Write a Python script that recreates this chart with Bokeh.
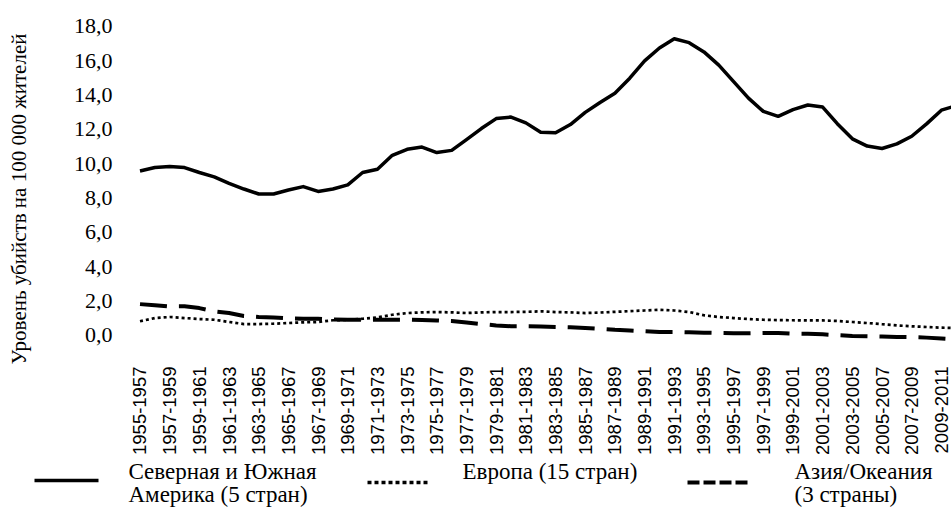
import math
from bokeh.plotting import figure
from bokeh.models import Range1d, FixedTicker
from bokeh.embed import file_html
from bokeh.resources import INLINE
from bokeh.core.properties import value

categories = [
    "1955-1957", "1956-1958", "1957-1959", "1958-1960", "1959-1961", "1960-1962",
    "1961-1963", "1962-1964", "1963-1965", "1964-1966", "1965-1967", "1966-1968",
    "1967-1969", "1968-1970", "1969-1971", "1970-1972", "1971-1973", "1972-1974",
    "1973-1975", "1974-1976", "1975-1977", "1976-1978", "1977-1979", "1978-1980",
    "1979-1981", "1980-1982", "1981-1983", "1982-1984", "1983-1985", "1984-1986",
    "1985-1987", "1986-1988", "1987-1989", "1988-1990", "1989-1991", "1990-1992",
    "1991-1993", "1992-1994", "1993-1995", "1994-1996", "1995-1997", "1996-1998",
    "1997-1999", "1998-2000", "1999-2001", "2000-2002", "2001-2003", "2002-2004",
    "2003-2005", "2004-2006", "2005-2007", "2006-2008", "2007-2009", "2008-2010",
    "2009-2011", "2010-2012",
]

americas = [9.57, 9.77, 9.83, 9.77, 9.48, 9.23, 8.85, 8.52, 8.23, 8.23,
            8.46, 8.66, 8.38, 8.52, 8.76, 9.48, 9.67, 10.48, 10.83, 10.96,
            10.64, 10.77, 11.40, 12.04, 12.62, 12.71, 12.37, 11.82, 11.79, 12.27,
            12.98, 13.56, 14.10, 14.97, 15.98, 16.73, 17.27, 17.04, 16.50, 15.73,
            14.77, 13.81, 13.04, 12.75, 13.14, 13.41, 13.29, 12.31, 11.44, 11.02,
            10.88, 11.15, 11.59, 12.31, 13.11, 13.37]

europe = [0.82, 1.01, 1.07, 1.01, 0.95, 0.91, 0.78, 0.66, 0.66, 0.68,
          0.72, 0.76, 0.78, 0.88, 0.91, 0.97, 1.05, 1.20, 1.30, 1.34,
          1.36, 1.34, 1.30, 1.34, 1.36, 1.36, 1.37, 1.40, 1.36, 1.34,
          1.30, 1.33, 1.37, 1.41, 1.45, 1.49, 1.45, 1.36, 1.17, 1.07,
          1.01, 0.95, 0.91, 0.89, 0.88, 0.87, 0.87, 0.84, 0.78, 0.72,
          0.65, 0.58, 0.53, 0.49, 0.45, 0.43]

asia = [1.82, 1.76, 1.69, 1.69, 1.59, 1.39, 1.30, 1.13, 1.07, 1.04,
        0.99, 0.97, 0.97, 0.92, 0.91, 0.91, 0.91, 0.91, 0.91, 0.89,
        0.87, 0.84, 0.75, 0.66, 0.58, 0.53, 0.53, 0.52, 0.49, 0.47,
        0.43, 0.38, 0.33, 0.29, 0.24, 0.20, 0.20, 0.18, 0.16, 0.14,
        0.13, 0.13, 0.14, 0.14, 0.10, 0.09, 0.06, 0.01, -0.03, -0.05,
        -0.07, -0.09, -0.10, -0.13, -0.18, -0.23]

y_ticks = [0, 2, 4, 6, 8, 10, 12, 14, 16, 18]
y_tick_labels = ["0,0", "2,0", "4,0", "6,0", "8,0", "10,0", "12,0", "14,0", "16,0", "18,0"]
y_title = "Уровень убийств на 100 000 жителей"
legend_americas = ["Северная и Южная", "Америка (5 стран)"]
legend_europe = ["Европа (15 стран)"]
legend_asia = ["Азия/Океания", "(3 страны)"]

x = list(range(len(categories)))
x_ticks = x[::2]
x_tick_labels = categories[::2]

SERIF = "Liberation Serif"
SANS = "Liberation Sans"


def blank(fig):
    fig.outline_line_color = None
    fig.grid.visible = False
    return fig


# ---- main chart ----
p = blank(figure(width=951, height=457, output_backend="svg", toolbar_location=None,
                 x_range=Range1d(-0.977, 54.68), y_range=Range1d(-2.742, 18.62),
                 min_border_left=125, min_border_right=0, min_border_top=15,
                 min_border_bottom=72))

p.line(x, americas, line_color="black", line_width=3.5, line_join="round")
p.line(x, europe, line_color="black", line_width=2.7, line_dash="3 3")
p.line(x, asia, line_color="black", line_width=4, line_dash="27 12")

xa = p.xaxis[0]
xa.ticker = FixedTicker(ticks=x_ticks)
xa.major_label_overrides = {t: l for t, l in zip(x_ticks, x_tick_labels)}
xa.major_label_orientation = math.pi / 2
xa.major_label_standoff = -16
xa.major_label_text_font = SANS
xa.major_label_text_font_size = "18.5px"
xa.major_label_text_color = "black"
xa.axis_line_color = None
xa.major_tick_line_color = None
xa.minor_tick_line_color = None
xa.major_tick_out = 0
xa.major_tick_in = 0

ya = p.yaxis[0]
ya.ticker = FixedTicker(ticks=y_ticks)
ya.major_label_overrides = {t: l for t, l in zip(y_ticks, y_tick_labels)}
ya.major_label_standoff = 13
ya.major_label_text_font = SERIF
ya.major_label_text_font_size = "22px"
ya.major_label_text_color = "black"
ya.axis_line_color = None
ya.major_tick_line_color = None
ya.minor_tick_line_color = None
ya.major_tick_out = 0
ya.major_tick_in = 0
ya.axis_label = y_title
ya.axis_label_text_font = SERIF
ya.axis_label_text_font_style = "normal"
ya.axis_label_text_font_size = "21px"
ya.axis_label_text_color = "black"
ya.axis_label_standoff = 40

# ---- legend strip (separate root, so its frame is not aligned to the chart) ----
lg = blank(figure(width=951, height=50, output_backend="svg", toolbar_location=None,
                  x_range=Range1d(0, 951), y_range=Range1d(50, 0),
                  x_axis_location=None, y_axis_location=None, min_border=0))

lg.segment(x0=[34], y0=[23], x1=[98], y1=[23], line_color="black", line_width=3.5)
lg.segment(x0=[367], y0=[25], x1=[429], y1=[25], line_color="black", line_width=3.5,
           line_dash="4 3")
lg.segment(x0=[687], y0=[25], x1=[750], y1=[25], line_color="black", line_width=4,
           line_dash="12 4")

tkw = dict(text_font=value(SERIF), text_font_size="23px", text_color="black",
           text_align="left", text_baseline="alphabetic")
lg.text(x=[128, 128], y=[14, 37], text=legend_americas, **tkw)
lg.text(x=[462], y=[14], text=legend_europe, **tkw)
lg.text(x=[794, 794], y=[14, 37], text=legend_asia, **tkw)

open("out.html", "w").write(file_html([p, lg], INLINE))
